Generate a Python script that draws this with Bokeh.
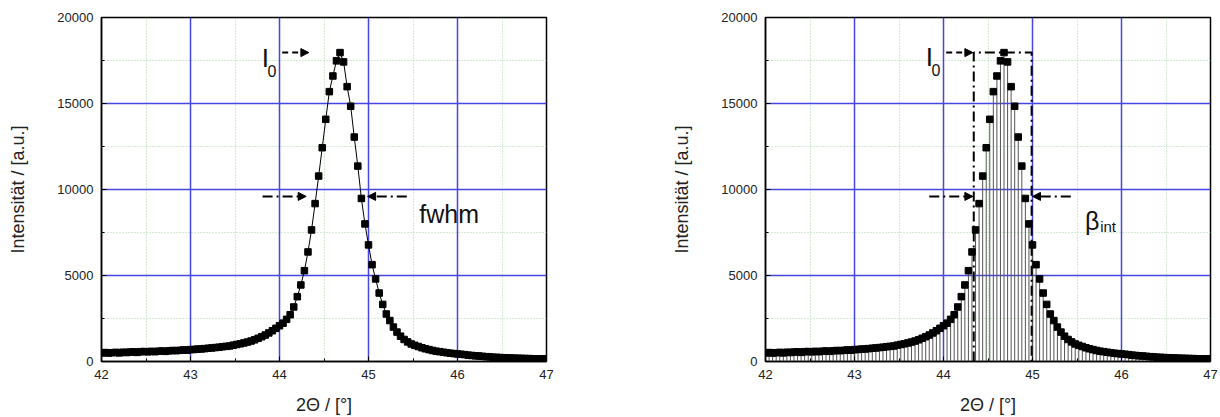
from bokeh.plotting import figure
from bokeh.layouts import row
from bokeh.models import Range1d, FixedTicker, Arrow, NormalHead, Label, Span
from bokeh.embed import file_html
from bokeh.resources import INLINE

# ---- data ----
two_theta = [
    42.00, 42.04, 42.08, 42.12, 42.16, 42.20, 42.24, 42.28, 42.32, 42.36,
    42.40, 42.44, 42.48, 42.52, 42.56, 42.60, 42.64, 42.68, 42.72, 42.76,
    42.80, 42.84, 42.88, 42.92, 42.96, 43.00, 43.04, 43.08, 43.12, 43.16,
    43.20, 43.24, 43.28, 43.32, 43.36, 43.40, 43.44, 43.48, 43.52, 43.56,
    43.60, 43.64, 43.68, 43.72, 43.76, 43.80, 43.84, 43.88, 43.92, 43.96,
    44.00, 44.04, 44.08, 44.12, 44.16, 44.20, 44.24, 44.28, 44.32, 44.36,
    44.40, 44.44, 44.48, 44.52, 44.56, 44.60, 44.64, 44.68, 44.72, 44.76,
    44.80, 44.84, 44.88, 44.92, 44.96, 45.00, 45.04, 45.08, 45.12, 45.16,
    45.20, 45.24, 45.28, 45.32, 45.36, 45.40, 45.44, 45.48, 45.52, 45.56,
    45.60, 45.64, 45.68, 45.72, 45.76, 45.80, 45.84, 45.88, 45.92, 45.96,
    46.00, 46.04, 46.08, 46.12, 46.16, 46.20, 46.24, 46.28, 46.32, 46.36,
    46.40, 46.44, 46.48, 46.52, 46.56, 46.60, 46.64, 46.68, 46.72, 46.76,
    46.80, 46.84, 46.88, 46.92, 46.96, 47.00,
]
intensity = [
    500, 520, 490, 510, 530, 500, 540, 520, 550, 560,
    530, 570, 580, 560, 590, 570, 600, 610, 590, 620,
    640, 630, 650, 670, 660, 690, 700, 720, 730, 750,
    770, 790, 810, 830, 860, 880, 900, 950, 990, 1030,
    1080, 1130, 1190, 1260, 1350, 1440, 1540, 1660, 1790, 1930,
    2080, 2230, 2450, 2720, 3170, 3770, 4450, 5280, 6370, 7650,
    9180, 10780, 12430, 14080, 15690, 16600, 17480, 17960, 17420, 15980,
    14840, 13050, 11360, 9480, 8000, 6780, 5630, 4800, 3980, 3320,
    2760, 2380, 2000, 1710, 1470, 1280, 1140, 1020, 940, 870,
    800, 740, 690, 640, 600, 570, 540, 510, 480, 460,
    440, 420, 400, 370, 350, 330, 320, 300, 280, 270,
    250, 240, 230, 220, 210, 200, 195, 190, 180, 175,
    170, 160, 155, 150, 150, 160,
]
x_ticks = [42, 43, 44, 45, 46, 47]
x_minor = [42.5, 43.5, 44.5, 45.5, 46.5]
y_ticks = [0, 5000, 10000, 15000, 20000]
y_minor = [2500, 7500, 12500, 17500]

x_label = "2\u0398 / [\u00b0]"
y_label = "Intensit\u00e4t / [a.u.]"

# annotation positions (data units)
i0_arrow = (44.03, 44.33)
half_level = 9600
fwhm_left = (43.81, 44.30)
fwhm_right = (45.43, 44.99)
beta_left_x = 44.34
beta_right_x = 44.99
peak = max(intensity)

FONT = "Liberation Sans"
GRID_BLUE = "#4646e6"


def make_fig(b_left, b_right):
    p = figure(width=610, height=417, output_backend="svg", toolbar_location=None,
               x_range=Range1d(42, 47), y_range=Range1d(0, 20000),
               min_border_left=b_left, min_border_right=b_right,
               min_border_top=17, min_border_bottom=56)
    p.xaxis.ticker = FixedTicker(ticks=x_ticks, minor_ticks=x_minor)
    p.yaxis.ticker = FixedTicker(ticks=y_ticks, minor_ticks=y_minor)
    p.xgrid.ticker = FixedTicker(ticks=x_ticks, minor_ticks=x_minor)
    p.ygrid.ticker = FixedTicker(ticks=y_ticks, minor_ticks=y_minor)
    for g in (p.xgrid, p.ygrid):
        g.grid_line_color = None
        g.minor_grid_line_color = "#a9d9a9"
        g.minor_grid_line_dash = "1 2"
        g.minor_grid_line_width = 1
    for t in x_ticks[1:-1]:
        p.add_layout(Span(location=t, dimension="height", line_color=GRID_BLUE,
                          line_width=1.5, level="underlay"))
    for t in y_ticks[1:-1]:
        p.add_layout(Span(location=t, dimension="width", line_color=GRID_BLUE,
                          line_width=1.5, level="underlay"))
    for ax in (p.xaxis, p.yaxis):
        ax.axis_line_width = 1.5
        ax.axis_line_color = "black"
        ax.major_tick_in = 5
        ax.major_tick_out = 0
        ax.minor_tick_in = 3
        ax.minor_tick_out = 0
        ax.major_tick_line_color = "black"
        ax.minor_tick_line_color = "black"
        ax.major_label_text_font = FONT
        ax.major_label_text_font_size = "13px"
        ax.major_label_text_color = "#222222"
        ax.axis_label_text_font = FONT
        ax.axis_label_text_font_size = "18px"
        ax.axis_label_text_font_style = "normal"
        ax.axis_label_text_color = "#222222"
    p.xaxis.major_label_standoff = 8
    p.yaxis.major_label_standoff = 8
    p.xaxis.axis_label_standoff = 13
    p.yaxis.axis_label_standoff = 26
    p.xaxis.axis_label = x_label
    p.yaxis.axis_label = y_label
    p.outline_line_color = "black"
    p.outline_line_width = 1.5
    p.outline_line_alpha = 1
    return p


def dashed_arrow(p, xs, y, dash):
    p.add_layout(Arrow(end=NormalHead(size=8, fill_color="black", line_color="black", line_width=1),
                       x_start=xs[0], y_start=y, x_end=xs[1], y_end=y,
                       line_color="black", line_width=2, line_dash=dash))


def label(p, x, y, text, size):
    p.add_layout(Label(x=x, y=y, text=text, text_font=FONT, text_font_size=size,
                       text_color="#111111", text_baseline="alphabetic", text_align="left"))


# ---- left figure ----
p1 = make_fig(101, 64)
p1.line(two_theta, intensity, line_color="black", line_width=1)
p1.scatter(two_theta, intensity, marker="square", size=6.5, fill_color="black", line_color="black")
dashed_arrow(p1, i0_arrow, peak, "6 4")
dashed_arrow(p1, fwhm_left, half_level, "10 4 2 4")
dashed_arrow(p1, fwhm_right, half_level, "10 4 2 4")
label(p1, 43.80, 17650, "I", "26px")
label(p1, 43.865, 16900, "0", "16px")
label(p1, 45.57, 8550, "fwhm", "25px")

# ---- right figure ----
p2 = make_fig(155, 10)
p2.segment(x0=two_theta, y0=[0] * len(two_theta), x1=two_theta, y1=intensity,
           line_color="#555555", line_width=1)
p2.scatter(two_theta, intensity, marker="square", size=6.5, fill_color="black", line_color="black")
dashed_arrow(p2, i0_arrow, peak, "6 4")
p2.line([beta_left_x, beta_left_x, beta_right_x, beta_right_x], [0, peak, peak, 0],
        line_color="black", line_width=2, line_dash="10 4 2 4")
dashed_arrow(p2, (43.84, 44.33), half_level, "10 4 2 4")
dashed_arrow(p2, (45.43, 45.00), half_level, "10 4 2 4")
label(p2, 43.80, 17700, "I", "26px")
label(p2, 43.865, 16950, "0", "16px")
label(p2, 45.59, 8170, "\u03b2", "25px")
label(p2, 45.76, 7850, "int", "15px")

layout = row(p1, p2)
open("out.html", "w").write(file_html(layout, INLINE))
